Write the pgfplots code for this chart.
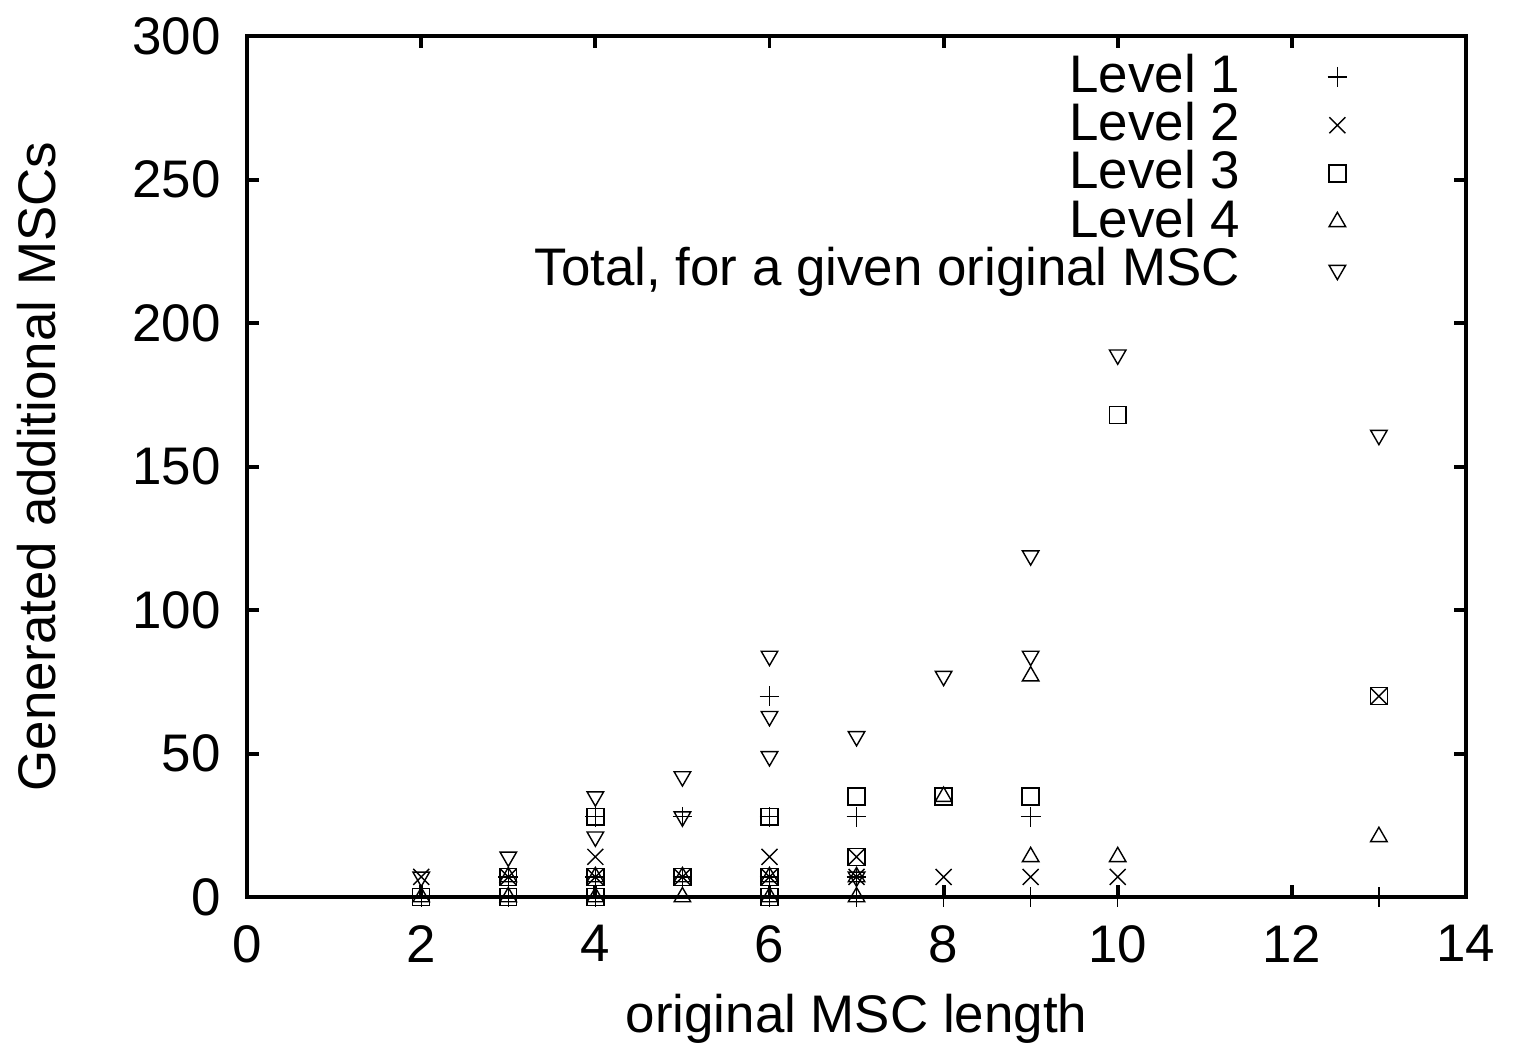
\documentclass[border=0pt]{standalone}
\usepackage{pgfplots}
\pgfplotsset{compat=1.18}
\usepackage{fontspec}
\setmainfont{Liberation Sans}
\begin{document}
\fontsize{15}{17}\selectfont
\begin{tikzpicture}
\begin{axis}[
    scale only axis,
    width=12.15cm, height=8.58cm,
    xmin=0, xmax=14, ymin=0, ymax=300,
    xtick={0,2,...,14}, ytick={0,50,...,300},
    tick align=inside,
    major tick length=0.12cm,
    axis line style={line width=1.1pt},
    tick style={line width=1.1pt, black},
    /pgf/number format/assume math mode=true,
    tick label style={font=\fontsize{15}{17}\selectfont},
    label style={font=\fontsize{15}{17}\selectfont},
    yticklabel style={xshift=-0.08cm},
    xticklabel style={yshift=-0.1cm},
    xlabel={original MSC length},
    ylabel={Generated additional MSCs},
    xlabel style={yshift=0.05cm},
    ylabel style={yshift=0.4cm},
    legend style={draw=none, fill=none, at={(0.912,0.997)}, anchor=north east,
        font=\fontsize{15}{17}\selectfont, row sep=-0.12cm},
    legend cell align=right,
    legend plot pos=right,
    legend image code/.code={\path[draw=none] (0cm,0cm) -- (1.0cm,0cm);
        \draw[#1] plot coordinates {(0.9cm,0cm)};},
    every axis plot/.append style={only marks, black, mark size=2.4pt, line width=0.4pt},
]
\addplot[mark=+, mark size=2.8pt] coordinates {
 (2,0) (3,0) (3,7) (4,0) (4,7) (4,28) (5,7) (5,28) (6,0) (6,7) (6,28) (6,70)
 (7,0) (7,7) (7,28) (8,0) (9,0) (9,28) (10,0) (13,0)
};
\addlegendentry{Level 1}
\addplot[mark=x, mark size=3.2pt] coordinates {
 (2,7) (3,7) (4,7) (4,14) (5,7) (6,7) (6,14) (7,7) (7,14) (8,7) (9,7) (10,7) (13,70)
};
\addlegendentry{Level 2}
\addplot[mark=square] coordinates {
 (2,0) (3,0) (3,7) (4,0) (4,7) (4,28) (5,7) (6,0) (6,7) (6,28) (7,14) (7,35)
 (8,35) (9,35) (10,168) (13,70)
};
\addlegendentry{Level 3}
\addplot[mark=triangle, mark size=2.7pt] coordinates {
 (2,0) (3,0) (3,7) (4,0) (4,7) (5,0) (5,7) (6,0) (6,7) (7,0) (7,7) (8,35)
 (9,14) (9,77) (10,14) (13,21)
};
\addlegendentry{Level 4}
\addplot[mark=triangle, mark size=2.7pt, mark options={rotate=180}] coordinates {
 (2,7) (3,14) (4,21) (4,35) (5,28) (5,42) (6,49) (6,63) (6,84) (7,7) (7,56)
 (8,77) (9,84) (9,119) (10,189) (13,161)
};
\addlegendentry{Total, for a given original MSC}
\end{axis}
\end{tikzpicture}
\end{document}
